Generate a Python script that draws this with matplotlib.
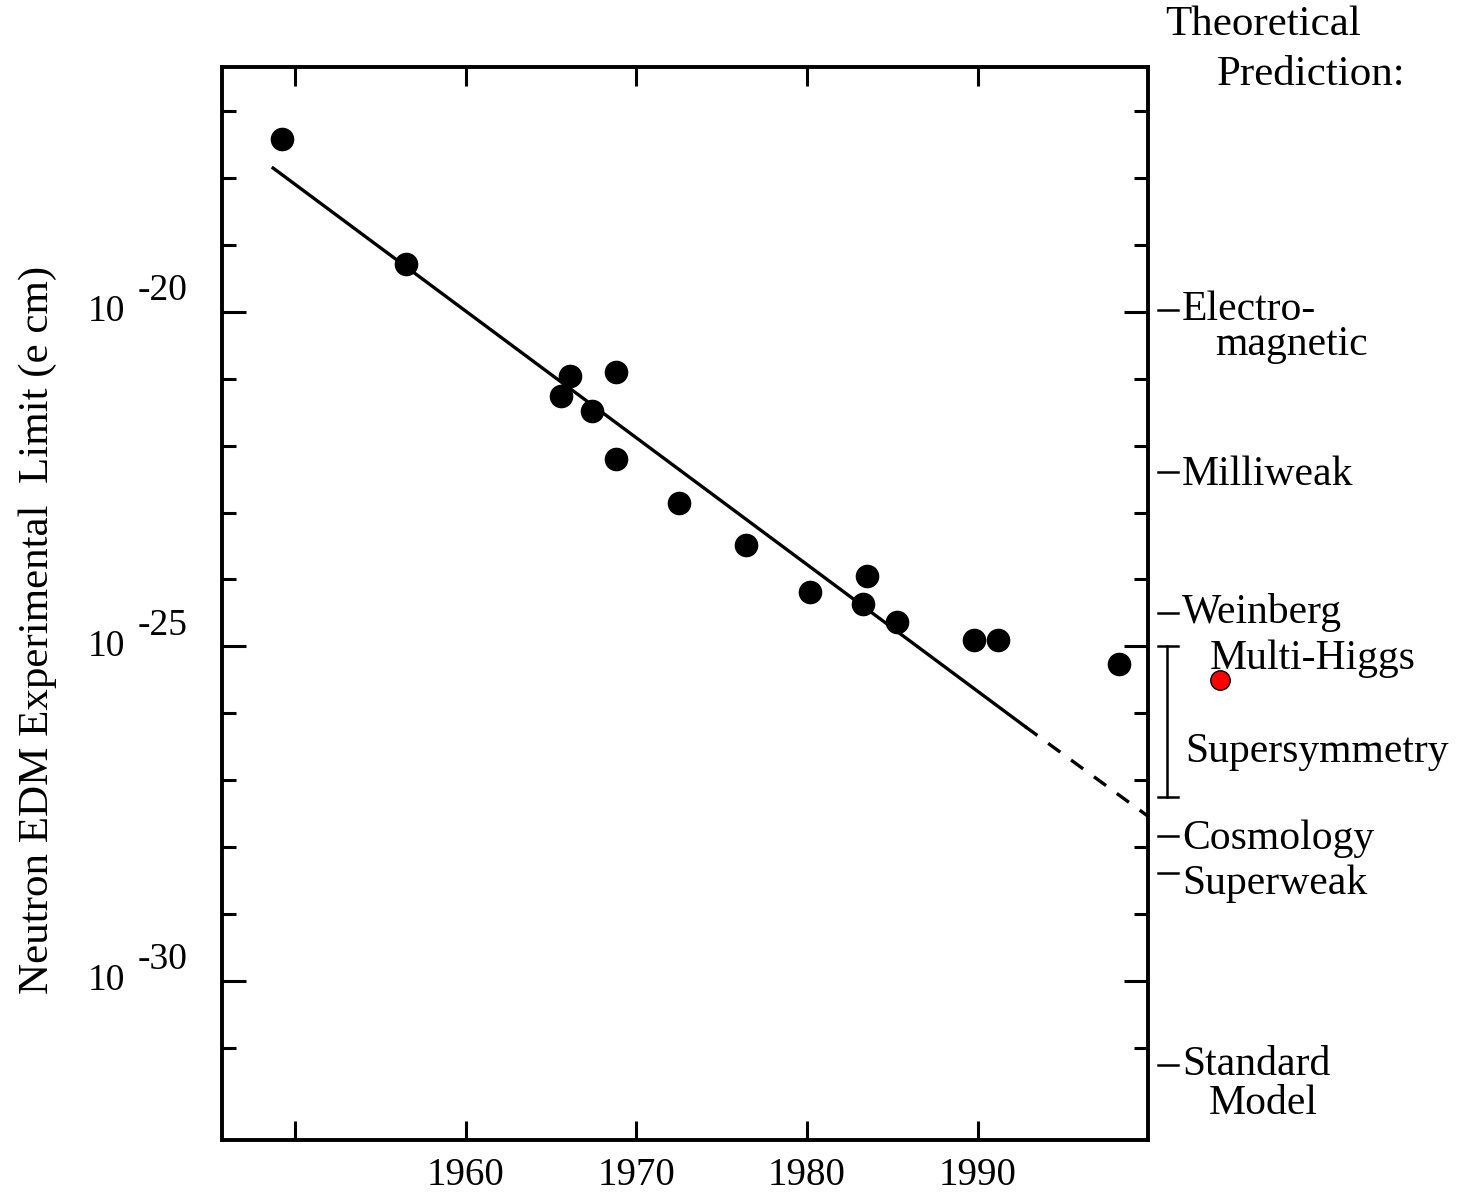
import matplotlib
matplotlib.use("Agg")
import matplotlib.pyplot as plt
from matplotlib.transforms import blended_transform_factory
from matplotlib.ticker import FixedLocator, NullFormatter

plt.rcParams['font.family'] = ['Liberation Serif', 'DejaVu Serif']

# measured limits: year and log10 of the limit (e cm)
years = [1949.2, 1956.5, 1965.6, 1966.1, 1967.4, 1968.8, 1968.8, 1972.5,
         1976.4, 1980.2, 1983.5, 1983.3, 1985.3, 1989.8, 1991.2, 1998.3]
log_limits = [-17.41, -19.28, -21.26, -20.96, -21.48, -20.90, -22.20, -22.86,
              -23.48, -24.19, -23.95, -24.36, -24.63, -24.90, -24.90, -25.26]

# projected point (red)
proj_year = [2004.2]
proj_log = [-25.50]

# trend line (solid part, then dashed extrapolation)
trend_years = [1948.7, 1992.8]
trend_logs = [-17.85, -26.20]
extrap_years = [1992.8, 2000.0]
extrap_logs = [-26.20, -27.54]

# theoretical predictions on the right (log10 values)
theory_names = ["Electro-", "Milliweak", "Weinberg", "Cosmology", "Superweak", "Standard"]
theory_logs = [-19.97, -22.39, -24.50, -27.83, -28.39, -31.26]
name_shift = [0, -2, 0, -2, -8, 0]   # text nudge (points) relative to its dash
susy_range = [-25.0, -27.25]

year_ticks = [1950, 1960, 1970, 1980, 1990]
year_labels = ["", "1960", "1970", "1980", "1990"]
labelled_exps = [-20, -25, -30]

fig = plt.figure(figsize=(14.64, 11.93), dpi=100)
ax = fig.add_axes([0.1516, 0.0444, 0.6326, 0.8994])

ax.set_yscale('log')
ax.plot(trend_years, [10 ** v for v in trend_logs], color='black', lw=2.4)
ax.plot(extrap_years, [10 ** v for v in extrap_logs], color='black', lw=2.4,
        dashes=(4.5, 4), clip_on=False)
ax.plot(years, [10 ** v for v in log_limits], 'o', color='black', ms=16, zorder=3)
ax.plot(proj_year, [10 ** v for v in proj_log], 'o', color='#ff0000', mec='black',
        mew=1, ms=14, clip_on=False, zorder=3)

ax.set_xlim(1945.7, 2000.0)
ax.set_ylim(10 ** -32.38, 10 ** -16.34)

for s in ax.spines.values():
    s.set_linewidth(2.8)

ax.set_xticks(year_ticks)
ax.set_xticklabels(year_labels, fontsize=28)
ax.tick_params(axis='x', which='major', direction='in', top=True, bottom=True,
               length=14, width=2.2, pad=12)
ax.yaxis.set_major_locator(FixedLocator([10.0 ** e for e in labelled_exps]))
ax.yaxis.set_minor_locator(FixedLocator([10.0 ** e for e in range(-31, -16)
                                         if e not in labelled_exps]))
ax.yaxis.set_major_formatter(NullFormatter())
ax.yaxis.set_minor_formatter(NullFormatter())
ax.tick_params(axis='y', which='major', direction='in', left=True, right=True,
               length=17, width=2.2)
ax.tick_params(axis='y', which='minor', direction='in', left=True, right=True,
               length=10, width=2.2)

tr = blended_transform_factory(ax.transAxes, ax.transData)

# "10^-20" style tick labels
for e in labelled_exps:
    ax.text(-0.105, 10.0 ** e, "10", transform=tr, ha='right', va='center',
            fontsize=27)
    ax.annotate(str(e), xy=(-0.091, 10.0 ** e), xycoords=tr,
                xytext=(0, 15), textcoords='offset points',
                ha='left', va='center', fontsize=27)

ax.text(-0.199, 0.475, "Neutron EDM Experimental  Limit (e cm)",
        transform=ax.transAxes, rotation=90, ha='center', va='center', fontsize=31)

# right side annotations
fs = 30
for name, v, dy in zip(theory_names, theory_logs, name_shift):
    ax.plot([1.0108, 1.0324], [10 ** v, 10 ** v], color='black', lw=1.8,
            transform=tr, clip_on=False)
    ax.annotate(name, xy=(1.0367, 10 ** v), xycoords=tr, xytext=(0, dy),
                textcoords='offset points', ha='left', va='center', fontsize=fs)
ax.annotate("magnetic", xy=(1.0724, 10 ** theory_logs[0]), xycoords=tr,
            xytext=(0, -25), textcoords='offset points', ha='left', va='center',
            fontsize=fs)
ax.annotate("Model", xy=(1.065, 10 ** theory_logs[5]), xycoords=tr,
            xytext=(0, -28), textcoords='offset points', ha='left', va='center',
            fontsize=fs)

# supersymmetry bracket
ax.plot([1.0205, 1.0205], [10 ** susy_range[0], 10 ** susy_range[1]],
        color='black', lw=1.8, transform=tr, clip_on=False)
for v in susy_range:
    ax.plot([1.0108, 1.0324], [10 ** v, 10 ** v], color='black', lw=1.8,
            transform=tr, clip_on=False)
ax.annotate("Multi-Higgs", xy=(1.067, 10 ** susy_range[0]), xycoords=tr,
            xytext=(0, -9), textcoords='offset points', ha='left', va='center',
            fontsize=fs)
ax.text(1.040, 10 ** -26.58, "Supersymmetry", transform=tr, ha='left',
        va='center', fontsize=fs)

fig.text(1165 / 1464, 1 - 25 / 1193, "Theoretical", ha='left', va='center', fontsize=31)
fig.text(1217 / 1464, 1 - 75 / 1193, "Prediction:", ha='left', va='center', fontsize=31)

fig.savefig("out.png", dpi=100)
